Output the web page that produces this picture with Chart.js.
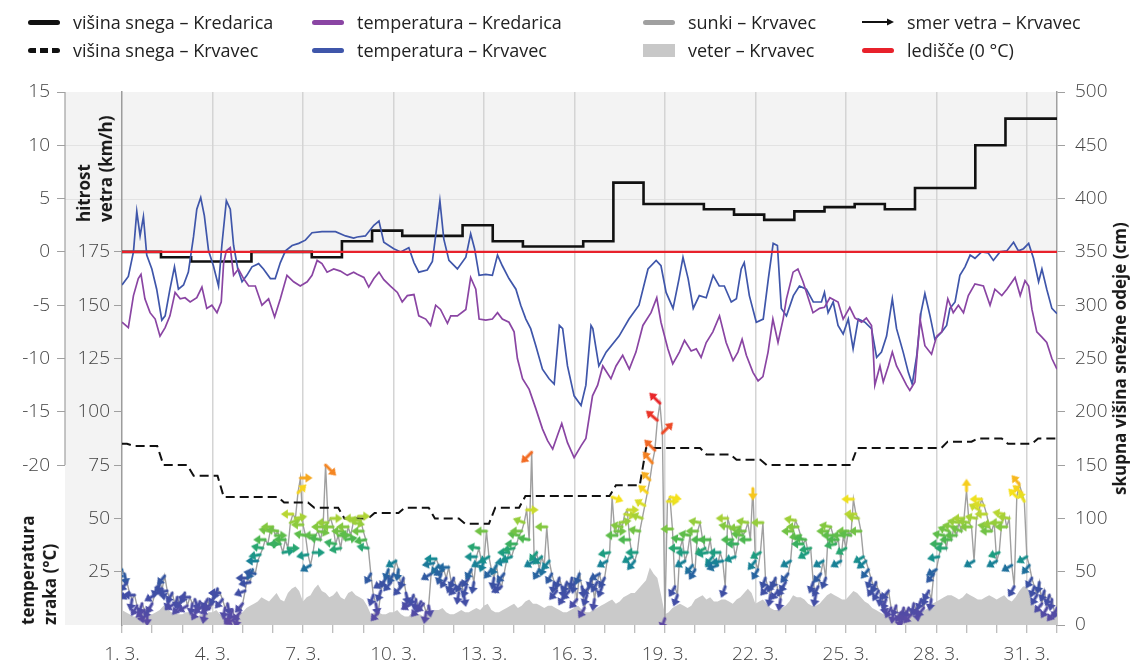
<!DOCTYPE html>
<html>
<head>
<meta charset="utf-8">
<script src="https://cdn.jsdelivr.net/npm/chart.js@4.4.1/dist/chart.umd.min.js"></script>
<style>
  html, body { margin: 0; padding: 0; background: #fff; }
  #wrap { position: relative; width: 1134px; height: 670px; font-family: 'Open Sans', sans-serif; }
  #chart { position: absolute; left: 0; top: 0; display: block; }
  .lg { position: absolute; display: flex; align-items: center; gap: 13px; font-size: 18px; font-weight: 500;
        color: #222; line-height: 20px; white-space: nowrap; }
  .sw { display: inline-block; width: 32px; height: 5px; border-radius: 3px; flex: none; }
  .vt { position: absolute; writing-mode: vertical-rl; transform: rotate(180deg); font-size: 17px; font-weight: 700;
        line-height: 22px; color: #1a1a1a; white-space: nowrap; }
</style>
</head>
<body>
<div id="wrap">
  <canvas id="chart" width="1134" height="670"></canvas>

  <div class="lg" style="left:28px;top:12px"><i class="sw" style="background:#111"></i>višina snega – Kredarica</div>
  <div class="lg" style="left:28px;top:40px"><i class="sw" style="background:repeating-linear-gradient(90deg,#111 0 8px,transparent 8px 12px)"></i>višina snega – Krvavec</div>
  <div class="lg" style="left:312px;top:12px"><i class="sw" style="background:#8a45a3"></i>temperatura – Kredarica</div>
  <div class="lg" style="left:312px;top:40px"><i class="sw" style="background:#3f56aa"></i>temperatura – Krvavec</div>
  <div class="lg" style="left:643px;top:12px"><i class="sw" style="background:#a0a0a0"></i>sunki – Krvavec</div>
  <div class="lg" style="left:643px;top:40px"><i class="sw" style="background:#c8c8c8;height:13px;border-radius:0"></i>veter – Krvavec</div>
  <div class="lg" style="left:862px;top:12px"><svg width="32" height="10" viewBox="0 0 32 10" style="flex:none"><line x1="0" y1="5" x2="26" y2="5" stroke="#111" stroke-width="2"/><path d="M32 5 L25 1.5 L25 8.5 Z" fill="#111"/></svg>smer vetra – Krvavec</div>
  <div class="lg" style="left:862px;top:40px"><i class="sw" style="background:#e8212b"></i>ledišče (0 °C)</div>

  <div class="vt" style="left:73px;top:92px;width:44px;height:130px">hitrost<br>vetra (km/h)</div>
  <div class="vt" style="left:17px;top:475px;width:44px;height:150px">temperatura<br>zraka (°C)</div>
  <div class="vt" style="left:1109px;top:92px;width:22px;height:533px;text-align:center">skupna višina snežne odeje (cm)</div>
</div>

<script>
// x = days since 1 March 00:00
const xTickDays = [0, 3, 6, 9, 12, 15, 18, 21, 24, 27, 30];
const xTickLabels = ['1. 3.', '4. 3.', '7. 3.', '10. 3.', '13. 3.', '16. 3.', '19. 3.', '22. 3.', '25. 3.', '28. 3.', '31. 3.'];
const tempTicks = [15, 10, 5, 0, -5, -10, -15, -20];
const tempGrid = [10, 5];
const windTicks = [175, 150, 125, 100, 75, 50, 25];

// temperatura (°C), [dan, vrednost]
const tempKredarica = [
  [0.00,-6.6],[0.21,-7.1],[0.38,-4.1],[0.54,-2.5],[0.63,-2.1],[0.76,-4.4],[0.93,-5.7],[1.10,-6.3],[1.26,-7.9],[1.43,-7.1],
  [1.59,-6.0],[1.76,-3.8],[1.93,-4.4],[2.09,-4.3],[2.26,-4.7],[2.48,-4.3],[2.65,-3.3],[2.81,-5.3],[2.98,-5.0],[3.15,-5.7],
  [3.29,-4.7],[3.37,-1.0],[3.46,0.1],[3.59,0.4],[3.70,-2.2],[3.86,-1.6],[4.03,-2.5],[4.20,-3.2],[4.42,-3.2],[4.64,-5.0],
  [4.86,-4.4],[5.06,-6.1],[5.25,-4.4],[5.47,-2.2],[5.69,-2.8],[5.91,-3.2],[6.14,-2.8],[6.30,-2.2],[6.47,-0.8],[6.63,-1.1],
  [6.80,-1.9],[7.02,-1.6],[7.24,-1.8],[7.47,-2.2],[7.68,-1.9],[7.80,-2.1],[8.02,-2.4],[8.18,-3.3],[8.35,-2.5],[8.52,-1.9],
  [8.68,-2.6],[8.90,-3.2],[9.13,-3.8],[9.29,-4.7],[9.46,-4.1],[9.68,-4.0],[9.84,-6.0],[10.07,-6.3],[10.23,-6.9],[10.40,-5.0],
  [10.56,-5.4],[10.79,-6.7],[10.90,-6.0],[11.12,-6.0],[11.40,-5.4],[11.56,-2.4],[11.73,-3.5],[11.84,-6.3],[12.06,-6.4],[12.28,-6.3],
  [12.45,-5.7],[12.61,-6.3],[12.83,-6.6],[13.00,-7.5],[13.11,-10.0],[13.28,-11.9],[13.50,-12.9],[13.72,-14.7],[13.94,-16.6],[14.11,-17.7],
  [14.28,-18.5],[14.44,-17.2],[14.58,-16.1],[14.77,-17.9],[14.99,-19.3],[15.22,-18.2],[15.38,-17.5],[15.60,-13.5],[15.77,-12.5],[15.94,-10.7],
  [16.21,-11.9],[16.38,-10.7],[16.60,-9.7],[16.82,-11.0],[17.04,-9.4],[17.27,-6.9],[17.54,-5.7],[17.73,-4.3],[17.87,-6.6],[18.10,-9.1],
  [18.26,-10.5],[18.48,-9.4],[18.65,-8.3],[18.87,-9.3],[19.04,-9.1],[19.20,-9.9],[19.37,-8.5],[19.59,-7.5],[19.81,-6.0],[20.03,-8.5],
  [20.26,-10.2],[20.42,-9.4],[20.56,-8.2],[20.70,-9.7],[20.92,-11.3],[21.09,-12.1],[21.25,-11.7],[21.42,-9.4],[21.58,-6.3],[21.75,-8.5],
  [21.92,-6.3],[22.03,-4.4],[22.25,-1.9],[22.41,-1.6],[22.58,-2.8],[22.75,-4.3],[22.91,-5.7],[23.13,-5.3],[23.29,-5.2],[23.47,-4.3],
  [23.74,-4.7],[23.91,-6.3],[24.13,-5.2],[24.30,-6.2],[24.52,-6.6],[24.68,-6.2],[24.85,-6.9],[24.91,-9.4],[24.96,-12.5],[25.13,-10.7],
  [25.24,-12.2],[25.41,-10.7],[25.54,-9.4],[25.68,-10.7],[25.85,-11.6],[26.01,-12.5],[26.12,-13.0],[26.29,-12.2],[26.46,-6.3],[26.62,-8.8],
  [26.84,-9.6],[27.01,-7.9],[27.18,-7.5],[27.38,-4.4],[27.56,-5.7],[27.73,-5.0],[27.90,-5.7],[28.06,-4.1],[28.28,-3.0],[28.56,-3.2],
  [28.78,-5.0],[28.94,-3.5],[29.17,-4.1],[29.34,-3.5],[29.61,-2.4],[29.78,-4.1],[29.94,-2.7],[30.06,-3.2],[30.17,-5.4],[30.33,-7.5],
  [30.50,-8.0],[30.66,-8.5],[30.83,-10.0],[31.00,-11.0]
];

const tempKrvavec = [
  [0.00,-3.1],[0.21,-2.3],[0.38,0.0],[0.49,3.8],[0.60,1.5],[0.71,3.3],[0.82,-0.3],[0.99,-1.6],[1.15,-3.5],[1.32,-6.4],
  [1.43,-6.0],[1.59,-3.5],[1.74,-1.4],[1.87,-3.5],[2.04,-3.1],[2.20,-1.9],[2.37,1.4],[2.48,4.0],[2.61,5.1],[2.73,3.4],
  [2.87,0.1],[3.03,-1.3],[3.20,-3.2],[3.31,0.6],[3.46,4.8],[3.59,4.0],[3.70,0.6],[3.84,-1.6],[3.98,-2.8],[4.14,-2.2],
  [4.31,-1.4],[4.53,-1.1],[4.69,-1.6],[4.92,-2.5],[5.08,-2.5],[5.25,-1.0],[5.42,0.1],[5.64,0.6],[5.86,0.8],[6.08,1.1],
  [6.30,1.8],[6.63,1.9],[7.08,1.9],[7.41,1.5],[7.68,1.3],[7.80,1.4],[8.07,1.5],[8.35,2.5],[8.52,2.9],[8.68,0.9],
  [9.01,0.3],[9.24,0.0],[9.51,0.4],[9.68,-1.0],[9.84,-1.9],[10.12,-1.7],[10.29,-0.9],[10.43,2.2],[10.54,4.8],[10.67,1.2],
  [10.84,-0.8],[11.12,-1.6],[11.40,-0.5],[11.56,1.7],[11.69,0.3],[11.84,-2.2],[12.06,-2.1],[12.28,-2.2],[12.45,-0.3],[12.61,-1.3],
  [12.83,-2.5],[13.06,-3.5],[13.22,-5.0],[13.39,-6.3],[13.55,-7.2],[13.72,-8.8],[13.94,-11.0],[14.16,-11.9],[14.33,-12.4],[14.50,-6.9],
  [14.61,-7.2],[14.77,-10.7],[14.99,-13.5],[15.22,-14.4],[15.38,-12.5],[15.55,-6.9],[15.61,-7.2],[15.81,-10.7],[16.05,-9.4],[16.48,-7.9],
  [16.81,-6.3],[17.14,-5.0],[17.44,-1.6],[17.71,-0.8],[17.87,-1.3],[18.04,-3.8],[18.27,-5.3],[18.47,-2.5],[18.60,-0.5],[18.77,-2.5],
  [18.94,-5.3],[19.14,-4.1],[19.37,-4.3],[19.60,-2.2],[19.80,-3.2],[19.97,-3.2],[20.20,-4.7],[20.37,-4.4],[20.53,-1.6],[20.63,-1.0],
  [20.80,-4.1],[21.03,-6.6],[21.26,-6.3],[21.43,-2.5],[21.59,0.8],[21.73,0.6],[21.86,-5.3],[22.03,-6.0],[22.26,-4.1],[22.46,-3.2],
  [22.69,-3.5],[22.92,-4.7],[23.19,-4.7],[23.29,-3.8],[23.41,-5.7],[23.58,-4.7],[23.74,-6.9],[23.91,-7.7],[24.08,-6.3],[24.24,-9.1],
  [24.41,-6.3],[24.63,-6.6],[24.85,-7.2],[25.02,-9.9],[25.18,-9.4],[25.35,-7.9],[25.54,-4.4],[25.68,-7.2],[25.90,-9.4],[26.07,-11.3],
  [26.20,-12.4],[26.35,-9.7],[26.49,-5.7],[26.62,-3.9],[26.79,-6.0],[26.95,-8.2],[27.18,-7.5],[27.34,-6.9],[27.45,-5.3],[27.62,-4.7],
  [27.78,-2.2],[27.95,-1.4],[28.12,-0.3],[28.28,-0.6],[28.50,0.0],[28.72,-0.1],[28.89,-0.8],[29.11,0.0],[29.34,0.1],[29.56,0.9],
  [29.72,0.1],[29.89,0.3],[30.06,0.8],[30.22,-0.6],[30.39,-2.8],[30.50,-1.6],[30.66,-3.5],[30.83,-5.3],[31.00,-5.8]
];

// višina snega (cm), dnevne meritve ob 7h za 1.–31. 3.
const snowHour = 7;
const snowKredaricaStart = 350;
const snowKredarica = [350,350,345,341,341,350,350,345,360,370,365,365,375,360,355,355,360,415,395,395,390,385,380,388,392,395,390,410,410,450,475];
const snowKrvavecStart = 170;
const snowKrvavec = [168,150,140,120,120,115,110,100,105,110,100,95,110,121,121,121,131,166,166,160,155,150,150,150,166,166,166,172,175,170,175];

// veter (km/h) vsakih 3 h
const windStep = 0.125;
const veterKrvavec = [
  7,6,5,4,4,6,6,5,  5,6,7,9,8,6,6,5,  5,6,6,4,4,5,5,6,  6,7,5,4,3,4,4,5,
  6,8,9,10,11,13,12,11,  13,15,12,11,15,17,18,16,  11,13,14,17,19,16,15,13,  14,16,13,12,15,16,14,13,
  12,9,5,6,6,5,5,6,  6,7,5,4,4,6,5,5,  4,5,6,7,7,8,6,5,  5,6,7,6,6,7,8,7,
  9,10,7,6,6,7,8,9,  10,8,9,11,12,10,10,9,  8,9,9,8,7,6,6,7,  8,9,7,6,6,7,8,9,
  10,11,12,10,11,13,14,15,  15,17,19,21,27,24,22,14,  5,6,8,9,10,9,8,9,  12,13,14,12,13,11,11,12,
  12,11,10,12,13,15,17,15,  10,11,12,10,8,7,7,8,  9,11,14,13,13,12,10,9,  9,10,12,14,15,14,13,12,
  12,14,16,15,13,11,10,8,  7,6,5,5,4,4,5,5,  4,5,5,6,6,7,8,10,  11,12,13,14,14,13,12,13,
  15,14,13,12,12,13,14,13,  12,13,14,12,11,13,16,18,  18,14,9,7,6,5,5,4,  4
];

// sunki (km/h) in smer vetra (°, od koder piha) vsaki 2 h
const gustStep = 1 / 12;
const sunkiKrvavec = [
  26,24,20,15,12,14,9,6,10,7,5,8,        10,14,18,20,17,23,16,12,15,10,13,9,
  12,15,9,13,10,12,7,11,9,6,12,8,        10,14,17,15,12,8,10,5,7,3,4,6,
  10,16,22,20,26,24,30,33,36,40,38,44,   46,42,44,38,34,40,36,48,52,50,62,69,
  47,42,33,28,34,42,44,40,46,75,48,50,   46,38,42,36,44,40,46,42,48,50,51,49,
  44,40,36,24,14,10,6,16,20,22,26,20,    24,30,26,18,22,15,12,10,14,12,8,11,
  10,6,9,24,29,31,28,24,26,22,27,20,     22,18,15,20,14,18,22,26,20,32,36,30,
  30,44,32,26,22,28,20,18,24,30,34,32,   36,38,42,44,48,54,40,81,30,34,26,32,
  28,46,30,24,20,16,22,18,14,20,16,22,   20,12,24,18,8,14,18,22,12,20,24,18,
  22,30,34,60,44,42,48,46,52,54,40,32,   30,34,44,50,56,62,68,76,82,96,104,90,
  3,58,60,45,18,14,36,40,30,34,42,28,    26,44,48,40,36,34,40,32,30,28,34,30,
  18,50,46,40,32,38,46,42,44,48,40,64,   30,26,34,48,22,18,14,20,22,16,12,18,
  20,24,30,44,49,46,42,38,40,34,36,20,   14,18,24,30,22,44,46,42,38,40,30,42,
  36,44,42,59,52,50,44,32,30,26,22,18,   20,16,14,10,12,16,8,6,9,4,6,8,
  6,8,5,10,7,9,12,8,14,16,12,24,         26,32,38,42,36,44,40,46,42,48,44,50,
  63,48,46,30,50,54,59,56,52,46,44,48,   30,34,48,52,46,50,28,18,60,66,62,58,
  32,28,22,18,14,20,10,16,8,14,12,6,     8
];
const smerKrvavec = [
  20,350,40,60,10,90,30,340,20,50,0,30,       30,60,20,10,350,40,80,20,30,60,10,40,
  40,20,60,90,10,340,30,20,50,10,30,60,       60,30,20,90,40,10,350,30,20,60,10,40,
  40,70,90,80,30,100,90,80,100,90,270,100,    90,270,100,90,260,90,270,250,90,260,225,270,
  90,100,80,60,270,90,280,100,90,315,90,270,  90,100,270,80,90,260,90,100,280,90,270,90,
  90,80,100,30,20,350,40,20,60,30,20,40,      30,60,10,40,20,350,30,60,20,10,40,30,
  40,10,350,60,80,90,40,20,60,30,90,20,       20,40,10,30,350,20,40,30,10,90,100,60,
  20,90,60,40,10,30,20,60,40,80,90,70,        80,90,100,90,110,270,100,45,60,40,30,50,
  20,90,40,30,10,40,20,350,30,20,40,10,       10,40,20,350,30,20,40,20,10,30,60,20,
  30,60,80,290,270,90,260,100,280,270,90,60,  40,90,100,110,120,130,135,140,135,130,135,225,
  20,270,280,90,30,20,90,100,60,90,100,40,    30,90,100,90,60,80,90,40,60,70,90,80,
  20,90,100,90,70,90,80,100,90,100,90,0,      40,30,60,90,20,40,10,30,20,40,10,30,
  30,40,60,90,100,90,80,90,100,60,80,20,      10,30,40,60,20,90,100,90,80,90,60,90,
  60,90,100,90,90,100,90,60,50,40,20,30,      20,30,10,350,20,40,30,10,20,350,30,10,
  30,20,40,10,350,30,20,40,20,30,10,40,       60,80,90,100,90,110,90,100,90,100,110,90,
  180,100,90,60,100,120,90,100,90,100,90,80,  60,70,90,100,90,100,60,30,135,140,130,150,
  60,40,30,20,30,10,40,20,30,20,10,40,        20
];

const freezing = 0;

const FONT = "'Open Sans', sans-serif";
const windStops = [[0,'#664aa0'],[7,'#554ba5'],[14,'#434ea6'],[22,'#3a50a2'],[27,'#22689f'],[31,'#158993'],[35,'#1fa27a'],
  [40,'#4cb74f'],[47,'#8ccb3e'],[55,'#d2dc2a'],[60,'#f5e11b'],[66,'#f7b81e'],[74,'#f58a22'],[85,'#f05a24'],[100,'#e8262a']];

function hexRgb(h) { return [1, 3, 5].map(i => parseInt(h.substr(i, 2), 16)); }
function windColor(v) {
  if (v <= windStops[0][0]) return windStops[0][1];
  for (let i = 1; i < windStops.length; i++) {
    if (v <= windStops[i][0]) {
      const [a, ca] = windStops[i - 1], [b, cb] = windStops[i];
      const t = (v - a) / (b - a), p = hexRgb(ca), q = hexRgb(cb);
      return 'rgb(' + p.map((c, k) => Math.round(c + (q[k] - c) * t)).join(',') + ')';
    }
  }
  return windStops[windStops.length - 1][1];
}

// arrow with its tail on the point, pointing right before rotation
const arrowCache = {};
function arrowFor(speed) {
  const key = Math.round(speed);
  if (!arrowCache[key]) {
    const len = key >= 70 ? 15 : 12;
    const s = 2 * len + 6;
    const c = document.createElement('canvas');
    c.width = s; c.height = s;
    const g = c.getContext('2d');
    const col = windColor(key);
    g.translate(s / 2, s / 2);
    g.strokeStyle = col; g.fillStyle = col; g.lineWidth = 3; g.lineCap = 'round';
    g.beginPath(); g.moveTo(0, 0); g.lineTo(len - 5, 0); g.stroke();
    g.beginPath(); g.moveTo(len, 0); g.lineTo(len - 7, -4.8); g.lineTo(len - 7, 4.8); g.closePath(); g.fill();
    arrowCache[key] = c;
  }
  return arrowCache[key];
}

const pairs = arr => arr.map(([x, y]) => ({ x, y }));
const dailySteps = (start, arr) => [{ x: 0, y: start }]
  .concat(arr.map((v, i) => ({ x: i + snowHour / 24, y: v })))
  .concat([{ x: 31, y: arr[arr.length - 1] }]);
const dailyRamps = (start, arr) => {
  const out = [{ x: 0, y: start }];
  arr.forEach((v, i) => {
    out.push({ x: i + 4 / 24, y: i ? arr[i - 1] : start });
    out.push({ x: i + 9 / 24, y: v });
  });
  out.push({ x: 31, y: arr[arr.length - 1] });
  return out;
};

const backdrop = {
  id: 'backdrop',
  beforeDraw(chart) {
    const { ctx, chartArea: a, scales: { yTemp, yWind } } = chart;
    const left = yWind.left;
    const y0 = yTemp.getPixelForValue(0);
    ctx.save();
    ctx.fillStyle = '#f3f3f3';
    ctx.fillRect(left, a.top, a.right - left, y0 - a.top);
    ctx.fillRect(left, y0, a.left - left, a.bottom - y0);
    ctx.strokeStyle = '#e2e2e2';
    ctx.lineWidth = 1;
    tempGrid.forEach(v => {
      const y = Math.round(yTemp.getPixelForValue(v)) + 0.5;
      ctx.beginPath(); ctx.moveTo(left, y); ctx.lineTo(a.right, y); ctx.stroke();
    });
    ctx.strokeStyle = '#a0a0a0';
    ctx.lineWidth = 1.2;
    ctx.beginPath();
    ctx.moveTo(yTemp.right, a.top);
    ctx.lineTo(yTemp.right, yTemp.getPixelForValue(Math.min(...tempTicks)));
    ctx.stroke();
    ctx.restore();
  }
};

const tickFont = { family: FONT, size: 19, weight: 300 };
const clear = 'rgba(0,0,0,0)';
const gustPoints = sunkiKrvavec.map((v, i) => ({ x: i * gustStep, y: v }));

new Chart(document.getElementById('chart'), {
  type: 'line',
  data: {
    datasets: [
      {
        label: 'veter – Krvavec', yAxisID: 'yWind', order: 9,
        data: veterKrvavec.map((v, i) => ({ x: i * windStep, y: v })),
        borderWidth: 0, borderColor: '#cacaca', backgroundColor: '#cacaca', fill: 'origin', pointRadius: 0
      },
      {
        label: 'sunki – Krvavec', yAxisID: 'yWind', order: 8,
        data: gustPoints,
        borderColor: '#a0a0a0', borderWidth: 1.4, pointRadius: 0
      },
      {
        label: 'višina snega – Krvavec', yAxisID: 'ySnow', order: 7,
        data: dailyRamps(snowKrvavecStart, snowKrvavec),
        borderColor: '#111', borderWidth: 2, borderDash: [9, 5], pointRadius: 0
      },
      {
        label: 'smer vetra – Krvavec', yAxisID: 'yWind', order: 6,
        data: gustPoints,
        showLine: false, pointRadius: 5,
        pointStyle: c => arrowFor(c.raw.y),
        rotation: c => smerKrvavec[c.dataIndex] + 90
      },
      {
        label: 'višina snega – Kredarica', yAxisID: 'ySnow', order: 5,
        data: dailySteps(snowKredaricaStart, snowKredarica),
        stepped: 'after', borderColor: '#111', borderWidth: 2.6, pointRadius: 0
      },
      {
        label: 'temperatura – Krvavec', yAxisID: 'yTemp', order: 4,
        data: pairs(tempKrvavec), borderColor: '#3f56aa', borderWidth: 1.7, pointRadius: 0
      },
      {
        label: 'temperatura – Kredarica', yAxisID: 'yTemp', order: 3,
        data: pairs(tempKredarica), borderColor: '#8a45a3', borderWidth: 1.7, pointRadius: 0
      },
      {
        label: 'ledišče (0 °C)', yAxisID: 'yTemp', order: 2,
        data: [{ x: 0, y: freezing }, { x: 31, y: freezing }],
        borderColor: '#e8212b', borderWidth: 2.4, pointRadius: 0
      }
    ]
  },
  options: {
    responsive: false,
    animation: false,
    events: [],
    layout: { padding: { top: 92, left: 0, right: 0, bottom: 0 } },
    plugins: { legend: { display: false }, tooltip: { enabled: false } },
    elements: { line: { tension: 0 } },
    scales: {
      x: {
        type: 'linear', min: 0, max: 31,
        border: { display: false },
        grid: {
          color: c => (c.tick && c.tick.value > 0 && c.tick.value % 3 === 0) ? '#d4d4d4' : clear,
          lineWidth: 1.5, tickColor: '#a8a8a8', tickLength: 8, tickWidth: 1
        },
        ticks: {
          stepSize: 1, autoSkip: false, maxRotation: 0, padding: 10, color: '#444', font: tickFont,
          callback: v => { const i = xTickDays.indexOf(v); return i >= 0 ? xTickLabels[i] : ''; }
        },
        afterFit: s => { s.height = 45; }
      },
      yTemp: {
        type: 'linear', position: 'left', weight: 1, min: -35, max: 15,
        border: { display: false },
        grid: {
          drawOnChartArea: false, tickLength: 8,
          tickColor: c => tempTicks.includes(c.tick.value) ? '#a0a0a0' : clear
        },
        ticks: {
          stepSize: 5, autoSkip: false, padding: 7, color: '#444', font: tickFont,
          callback: v => tempTicks.includes(v) ? String(v) : ''
        },
        afterFit: s => { s.width = 65; }
      },
      yWind: {
        type: 'linear', position: 'left', weight: 0, min: 0, max: 250,
        border: { display: true, color: '#9c9c9c', width: 1.5 },
        grid: {
          drawOnChartArea: false, tickLength: 8,
          tickColor: c => windTicks.includes(c.tick.value) ? '#a0a0a0' : clear
        },
        ticks: {
          stepSize: 25, autoSkip: false, padding: 4, color: '#444', font: tickFont,
          callback: v => windTicks.includes(v) ? String(v) : ''
        },
        afterFit: s => { s.width = 57; }
      },
      ySnow: {
        type: 'linear', position: 'right', min: 0, max: 500,
        border: { display: true, color: '#a0a0a0', width: 1.5 },
        grid: { drawOnChartArea: false, tickLength: 8, tickColor: '#a0a0a0' },
        ticks: { stepSize: 50, autoSkip: false, padding: 10, color: '#444', font: tickFont },
        afterFit: s => { s.width = 77; }
      }
    }
  },
  plugins: [backdrop]
});
</script>
</body>
</html>
